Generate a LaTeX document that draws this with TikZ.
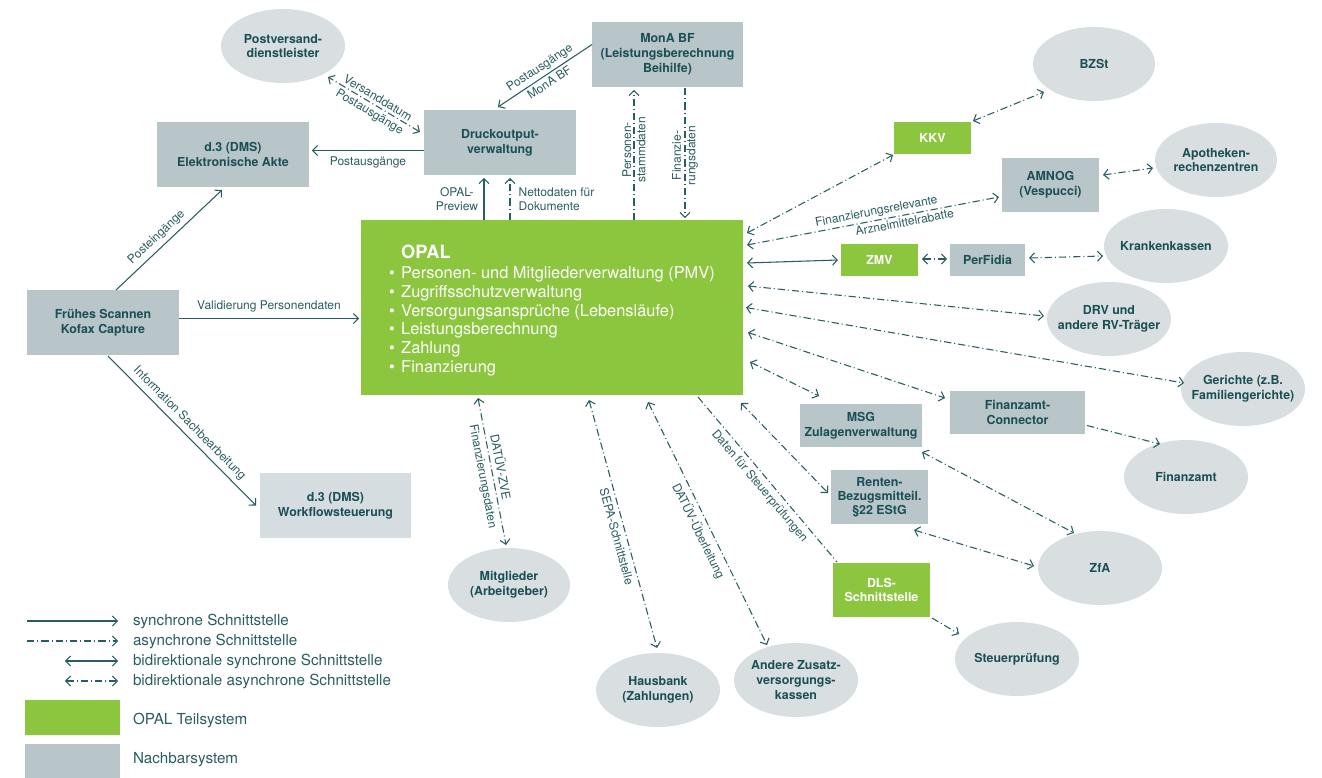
\documentclass[tikz,border=0pt]{standalone}
\usepackage{fontspec}
\setmainfont{TeX Gyre Heros}
\usetikzlibrary{arrows.meta,shapes.geometric,calc}
\definecolor{opalgreen}{HTML}{8CC63F}
\definecolor{nbgray}{HTML}{B8C5C9}
\definecolor{ellgray}{HTML}{D9DFE1}
\definecolor{lightbox}{HTML}{D6DDE0}
\definecolor{tealtext}{HTML}{1A4F55}
\definecolor{linecol}{HTML}{2A5D62}
\begin{document}
\begin{tikzpicture}[x=0.75pt,y=-0.75pt,
  every node/.style={inner sep=0pt, outer sep=0pt},
  >={Straight Barb[length=3.6pt,width=7.5pt]},
  nodetext/.style={font=\bfseries\fontsize{9.3}{11}\selectfont, align=center, text=tealtext},
  nb/.style 2 args={rectangle, fill=nbgray, minimum width=#1*0.75pt, minimum height=#2*0.75pt, nodetext},
  lb/.style 2 args={rectangle, fill=lightbox, minimum width=#1*0.75pt, minimum height=#2*0.75pt, nodetext},
  gb/.style 2 args={rectangle, fill=opalgreen, minimum width=#1*0.75pt, minimum height=#2*0.75pt, nodetext, text=white},
  ell/.style={ellipse, fill=ellgray, minimum width=124*0.75pt, minimum height=74*0.75pt, nodetext, inner xsep=-30pt, inner ysep=-30pt},
  lab/.style={font=\fontsize{9}{10.8}\selectfont, text=linecol, inner sep=3.5pt},
  leg/.style={font=\fontsize{11.4}{13}\selectfont, text=linecol, anchor=west},
  sync/.style={draw=linecol, line width=0.8pt},
  async/.style={draw=linecol, line width=0.8pt, dash pattern=on 5.5pt off 2.2pt on 0.8pt off 2.2pt}
]
\fill[white] (0,0) rectangle (1322,774);

% ---------- nodes ----------
\node[ell] (postv) at (283,46) {Postversand-\\dienstleister};
\node[nb={151}{65}, font=\bfseries\fontsize{9.3}{11.2}\selectfont] (mona) at (667.5,54.5) {MonA BF\\(Leistungsberechnung\\Beihilfe)};
\node[nb={152}{65}] (druck) at (500,142.5) {Druckoutput-\\verwaltung};
\node[nb={152}{65}] (elek) at (233,154.5) {d.3 (DMS)\\Elektronische Akte};
\node[nb={152}{65}] (frueh) at (103,322.5) {Frühes Scannen\\Kofax Capture};
\node[lb={151}{65}] (wf) at (335.5,505.5) {d.3 (DMS)\\Workflowsteuerung};
\node[rectangle, fill=opalgreen, minimum width=382*0.75pt, minimum height=175*0.75pt, text=white, align=left, font=\fontsize{12.3}{14.1}\selectfont] (opal) at (552,307.5)
 {\rule{0pt}{14.5pt}\hspace*{9pt}{\bfseries\fontsize{13.7}{16}\selectfont OPAL}\\[1pt]
  \makebox[9pt][l]{\textbullet}Personen- und Mitgliederverwaltung (PMV)\\
  \makebox[9pt][l]{\textbullet}Zugriffsschutzverwaltung\\
  \makebox[9pt][l]{\textbullet}Versorgungsansprüche (Lebensläufe)\\
  \makebox[9pt][l]{\textbullet}Leistungsberechnung\\
  \makebox[9pt][l]{\textbullet}Zahlung\\
  \makebox[9pt][l]{\textbullet}Finanzierung};
\node[ell, minimum width=122*0.75pt] (mitgl) at (509,585) {Mitglieder\\(Arbeitgeber)};
\node[ell] (hausb) at (658,690) {Hausbank\\(Zahlungen)};
\node[ell] (zusatz) at (796,680) {Andere Zusatz-\\versorgungs-\\kassen};
\node[ell, minimum width=122*0.75pt] (bzst) at (1094,64) {BZSt};
\node[gb={77}{32}] (kkv) at (932.5,138) {KKV};
\node[nb={97}{54}] (amnog) at (1050.5,185) {AMNOG\\(Vespucci)};
\node[ell, minimum width=122*0.75pt] (apo) at (1216,160) {Apotheken-\\rechenzentren};
\node[gb={77}{32}] (zmv) at (879.5,260) {ZMV};
\node[nb={75}{32}] (perf) at (987.5,260) {PerFidia};
\node[ell] (kk) at (1166,246) {Krankenkassen};
\node[ell] (drv) at (1109,319) {DRV und\\andere RV-Träger};
\node[ell] (ger) at (1243,389) {Gerichte (z.B.\\Familiengerichte)};
\node[nb={135}{43}] (fc) at (1017.5,412.5) {Finanzamt-\\Connector};
\node[nb={122}{43}] (msg) at (861,425.5) {MSG\\Zulagenverwaltung};
\node[ell] (fa) at (1186,477) {Finanzamt};
\node[nb={97}{54}, font=\bfseries\fontsize{9.3}{10.6}\selectfont] (renten) at (879.5,497) {Renten-\\Bezugsmitteil.\\§22 EStG};
\node[ell] (zfa) at (1100,568) {ZfA};
\node[gb={97}{54}] (dls) at (881.5,590) {DLS-\\Schnittstelle};
\node[ell] (steuer) at (1017,659) {Steuerprüfung};

% ---------- connectors ----------
\draw[sync,->] ($(mona.west)+(0,-10)$) -- node[lab,sloped,above,inner sep=2.5pt]{Postausgänge} node[lab,sloped,below,inner sep=2.5pt]{MonA BF} ($(druck.north)+(-2,-3)$);
\draw[async,<->] ($(druck.north west)+(-4,22)$) -- node[lab,sloped,above,inner sep=2.5pt]{Versanddatum} node[lab,sloped,below,inner sep=2.5pt]{Postausgänge} ($(postv.center)+(45,31)$);
\draw[sync,->] ($(druck.west)+(0,8)$) -- node[lab,below,inner sep=4.5pt]{Postausgänge} ($(elek.east)+(3,-4)$);
\draw[sync,->] ($(opal.north west)+(123,0)$) -- node[lab,left,align=center,xshift=-1]{OPAL-\\Preview} ($(druck.south)+(-16,3)$);
\draw[async,->] ($(opal.north west)+(149,0)$) -- node[lab,right,align=left,xshift=3]{Nettodaten für\\Dokumente} ($(druck.south)+(10,3)$);
\draw[async,->] ($(opal.north west)+(273,0)$) -- node[lab,rotate=90,align=center,pos=0.54,inner sep=0pt]{Personen-\\stammdaten} ($(mona.south)+(-33.5,3)$);
\draw[async,->] ($(mona.south)+(17.5,1)$) -- node[lab,rotate=90,align=center,pos=0.52,inner sep=0pt]{Finanzie-\\rungsdaten} ($(opal.north west)+(324,-2)$);
\draw[sync,->] ($(frueh.north)+(13,0)$) -- node[lab,sloped,above,pos=0.45]{Posteingänge} ($(elek.south)+(-11,3)$);
\draw[sync,->] ($(frueh.east)+(0,-4)$) -- node[lab,above,inner sep=4.5pt]{Validierung Personendaten} ($(opal.west)+(-2,11)$);
\draw[sync,->] ($(frueh.south)+(5,1)$) -- node[lab,sloped,above]{Information Sachbearbeitung} ($(wf.west)+(-4,0)$);
\draw[async,<->] ($(opal.south west)+(117,3)$) -- node[lab,sloped,above,pos=0.48]{DATÜV-ZVE} node[lab,sloped,below,pos=0.52]{Finanzierungsdaten} ($(mitgl.north)+(-3,-3)$);
\draw[async,<->] ($(opal.south west)+(228,5)$) -- node[lab,sloped,below,pos=0.54]{SEPA-Schnittstelle} ($(hausb.north)+(-1,-5)$);
\draw[async,<->] ($(opal.south west)+(287,7)$) -- node[lab,sloped,below,pos=0.51]{DATÜV-Überleitung} ($(zusatz.center)+(-29,-35)$);
\draw[async] ($(opal.south west)+(337,2)$) -- node[lab,sloped,below,pos=0.5]{Daten für Steuerprüfungen} ($(dls.north west)+(4,-1)$);
\draw[async,->] ($(dls.south east)+(2,1)$) -- ($(steuer.center)+(-58,-25)$);
\draw[async,<->] ($(opal.south east)+(-2,8)$) -- ($(renten.west)+(-3,-4)$);
\draw[async,<->] ($(opal.south east)+(7,-33)$) -- ($(msg.north)+(-42,-8)$);
\draw[async,<->] ($(opal.east)+(5,25)$) -- ($(fc.north west)+(-5,7)$);
\draw[async,<->] ($(opal.east)+(3,0)$) -- ($(ger.center)+(-59,-6)$);
\draw[async,<->] ($(opal.east)+(5,-21.5)$) -- ($(drv.center)+(-65,-3)$);
\draw[sync,<->] ($(opal.east)+(4,-44.5)$) -- ($(zmv.west)+(-3,0)$);
\draw[async,<->] ($(zmv.east)+(4,-1)$) -- ($(perf.west)+(-3,-1)$);
\draw[async,<->] ($(perf.east)+(4,-2)$) -- ($(kk.center)+(-63,10)$);
\draw[async,<->] ($(opal.north east)+(4,25)$) -- node[lab,sloped,above,pos=0.52,inner sep=2pt]{Finanzierungsrelevante} node[lab,sloped,below,pos=0.62,inner sep=2pt]{Arzneimittelrabatte} ($(amnog.west)+(-3,12)$);
\draw[async,<->] ($(opal.north east)+(4,13)$) -- ($(kkv.south west)+(-1,1)$);
\draw[async,<->] ($(kkv.north east)+(2,-1)$) -- ($(bzst.center)+(-50,28)$);
\draw[async,<->] ($(amnog.east)+(4,-10)$) -- ($(apo.center)+(-63,8)$);
\draw[async,->] ($(fc.east)+(2,13)$) -- ($(fa.center)+(-26,-33)$);
\draw[async,<->] ($(msg.south east)+(0,5)$) -- ($(zfa.center)+(-26,-35)$);
\draw[async,<->] ($(renten.south east)+(-14,6)$) -- ($(zfa.center)+(-66,-2)$);

% ---------- legend ----------
\coordinate (lg1a) at (27,621);  \coordinate (lg1b) at (118,621);
\coordinate (lg2a) at (27,641);  \coordinate (lg2b) at (118,641);
\coordinate (lg3a) at (65,661);  \coordinate (lg3b) at (118,661);
\coordinate (lg4a) at (65,681);  \coordinate (lg4b) at (118,681);
\draw[sync,->] (lg1a) -- (lg1b);
\draw[async,->] (lg2a) -- (lg2b);
\draw[sync,<->] (lg3a) -- (lg3b);
\draw[async,<->] (lg4a) -- (lg4b);
\node[leg] (lt1) at (133,621) {synchrone Schnittstelle};
\node[leg] (lt2) at (133,641) {asynchrone Schnittstelle};
\node[leg] (lt3) at (133,661) {bidirektionale synchrone Schnittstelle};
\node[leg] (lt4) at (133,681) {bidirektionale asynchrone Schnittstelle};
\node[rectangle, fill=opalgreen, minimum width=95*0.75pt, minimum height=35*0.75pt] (lgg) at (72.5,717.5) {};
\node[rectangle, fill=nbgray, minimum width=95*0.75pt, minimum height=34*0.75pt] (lgn) at (72.5,761) {};
\node[leg] (lt5) at (133,720) {OPAL Teilsystem};
\node[leg] (lt6) at (133,760) {Nachbarsystem};
\useasboundingbox (0,0) rectangle (1322,774);
\end{tikzpicture}
\end{document}
